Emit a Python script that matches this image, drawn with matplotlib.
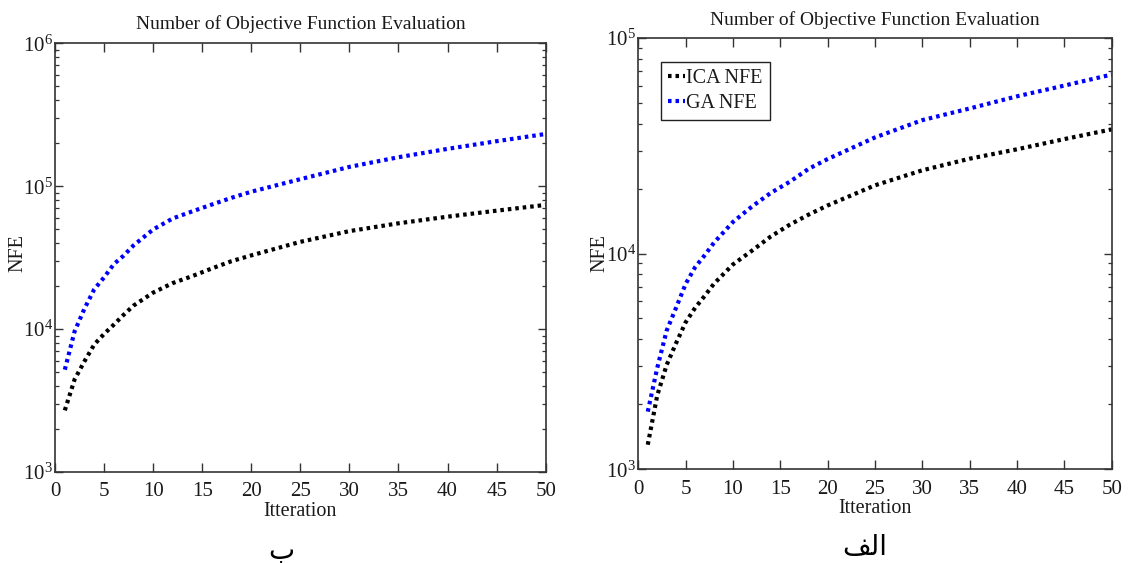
import matplotlib
matplotlib.use("Agg")
import matplotlib.pyplot as plt
from matplotlib.ticker import LogLocator, MultipleLocator, NullFormatter

plt.rcParams['font.family'] = ['Liberation Serif', 'DejaVu Sans']
plt.rcParams['mathtext.fontset'] = 'custom'
plt.rcParams['mathtext.rm'] = 'Liberation Serif'
plt.rcParams['mathtext.it'] = 'Liberation Serif:italic'

# ---- data ----
iterations = [1, 2, 3, 4, 5, 6, 7, 8, 10, 12, 14, 16, 18, 20, 25, 30, 35, 40, 45, 50]

left_ica = [2700, 4450, 5950, 7800, 9250, 10750, 12600, 14600, 18000, 21000, 23500,
            26600, 29900, 32800, 40800, 48500, 55000, 61200, 67400, 74000]
left_ga = [5200, 9650, 13900, 19000, 23000, 28500, 32700, 38500, 49800, 59500, 66700,
           74500, 83000, 91500, 112000, 136500, 159500, 182500, 206500, 232000]

right_ica = [1300, 2200, 3050, 3850, 4800, 5600, 6350, 7250, 8900, 10300, 12000,
             13600, 15150, 16700, 20700, 24300, 27500, 30400, 33900, 37600]
right_ga = [1850, 2950, 4400, 5620, 7230, 8640, 9800, 11230, 14000, 16500, 19100,
            21500, 24700, 27400, 34500, 41500, 47000, 53500, 60000, 67500]

series_labels = ["ICA NFE", "GA NFE"]
title_text = "Number of Objective Function Evaluation"
xlabel_text = "Itteration"
ylabel_text = "NFE"
# Persian panel captions "ب" and "الف", written with Arabic presentation forms
# in visual order because matplotlib does not shape right-to-left text.
panel_left_label = "\uFE8F"
panel_right_label = "\uFED2\uFEDF\uFE8D"

# ---- figure ----
W, H = 1129, 563
fig = plt.figure(figsize=(W / 100, H / 100), dpi=100)
fig.patch.set_facecolor('white')

ax1 = fig.add_axes([55 / W, 1 - 472 / H, (545.7 - 55) / W, (472 - 43.3) / H])
ax2 = fig.add_axes([638.3 / W, 1 - 469.3 / H, (1111.7 - 638.3) / W, (469.3 - 37.7) / H])

dash = (0, (0.85, 0.95))
lw = 3.0
text_color = '#1a1a1a'

def style(ax, ylim, title_pad):
    ax.set_yscale('log')
    ax.set_xlim(0, 50)
    ax.set_ylim(*ylim)
    ax.xaxis.set_major_locator(MultipleLocator(5))
    ax.yaxis.set_major_locator(LogLocator(base=10))
    ax.yaxis.set_minor_locator(LogLocator(base=10, subs=range(2, 10)))
    ax.yaxis.set_minor_formatter(NullFormatter())
    for s in ax.spines.values():
        s.set_color('#333333')
        s.set_linewidth(1.2)
    ax.tick_params(axis='both', which='both', direction='in', top=True, right=True,
                   colors='#333333', labelcolor=text_color)
    ax.tick_params(axis='x', which='major', length=6.5, width=1.0, labelsize=15, pad=7.5)
    ax.tick_params(axis='y', which='major', length=5.5, width=1.0, labelsize=15, pad=1.5)
    ax.tick_params(axis='y', which='minor', length=2.6, width=0.9)
    ax.set_title(title_text, fontsize=14, color=text_color, pad=title_pad)
    ax.set_xlabel(xlabel_text, fontsize=14.5, color=text_color, labelpad=0.5)
    ax.set_ylabel(ylabel_text, fontsize=14.5, color=text_color, labelpad=0)

# left panel
ax1.plot(iterations, left_ica, color='black', lw=lw, linestyle=dash, label=series_labels[0])
ax1.plot(iterations, left_ga, color='#0000ff', lw=lw, linestyle=dash, label=series_labels[1])
style(ax1, (1e3, 1e6), 10.3)
ax1.yaxis.set_label_coords(-0.057, 0.51)

# right panel
ax2.plot(iterations, right_ica, color='black', lw=lw, linestyle=dash, label=series_labels[0])
ax2.plot(iterations, right_ga, color='#0000ff', lw=lw, linestyle=dash, label=series_labels[1])
style(ax2, (1e3, 1e5), 9.1)
ax2.yaxis.set_label_coords(-0.062, 0.502)

leg = ax2.legend(loc='upper left', bbox_to_anchor=(0.048, 0.944), fontsize=14.5,
                 frameon=True, fancybox=False, shadow=False, borderaxespad=0,
                 borderpad=0.35, handlelength=0.85, handletextpad=0.05,
                 labelspacing=0.3, framealpha=1)
leg.get_frame().set_edgecolor('#222222')
leg.get_frame().set_linewidth(1.0)
for t in leg.get_texts():
    t.set_color(text_color)

fig.text(281.5 / W, 1 - 551 / H, panel_left_label, fontsize=20, ha='center', va='center',
         family='DejaVu Sans', color='black')
fig.text(864.5 / W, 1 - 547 / H, panel_right_label, fontsize=20, ha='center', va='center',
         family='DejaVu Sans', color='black')

fig.savefig('out.png', dpi=100, facecolor='white')
